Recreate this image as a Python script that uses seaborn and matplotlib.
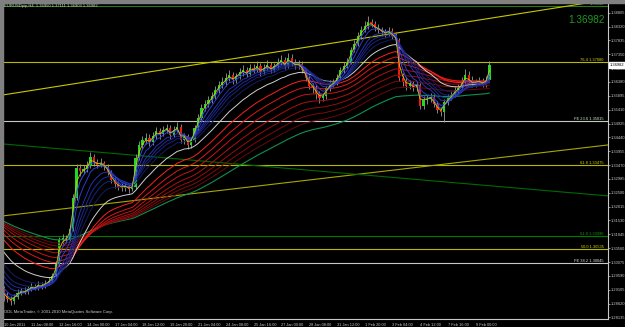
import numpy as np
import pandas as pd
import matplotlib
matplotlib.use("Agg")
import matplotlib.pyplot as plt
import seaborn as sns
from matplotlib.patches import Rectangle

sns.set_style("dark")
plt.rcParams['font.family'] = ['Liberation Sans', 'DejaVu Sans']

# ---------------- data ----------------
symbol_title = "EURUSDpip,H4  1.36950 1.37111 1.36903 1.36982"
last_price = 1.36982

# H4 closes before the visible window (indicator warm-up)
warmup_close = [
    1.3160, 1.3150, 1.3120, 1.3110, 1.3120, 1.3130,
    1.3100, 1.3090, 1.3080, 1.3090, 1.3110, 1.3100,
    1.3100, 1.3080, 1.3070, 1.3080, 1.3090, 1.3085,
    1.3090, 1.3100, 1.3110, 1.3120, 1.3110, 1.3100,
    1.3110, 1.3115, 1.3120, 1.3110, 1.3105, 1.3110,
    1.3170, 1.3160, 1.3145, 1.3140, 1.3150, 1.3140,
    1.3135, 1.3120, 1.3110, 1.3100, 1.3090, 1.3095,
    1.3110, 1.3140, 1.3180, 1.3220, 1.3210, 1.3200,
    1.3195, 1.3210, 1.3240, 1.3260, 1.3290, 1.3300,
    1.3310, 1.3340, 1.3360, 1.3380, 1.3370, 1.3380,
    1.3360, 1.3340, 1.3330, 1.3350, 1.3360, 1.3355,
    1.3340, 1.3310, 1.3300, 1.3290, 1.3280, 1.3300,
    1.3260, 1.3220, 1.3180, 1.3150, 1.3140, 1.3150,
    1.3120, 1.3090, 1.3060, 1.3020, 1.3000, 1.3005,
    1.2980, 1.2960, 1.2930, 1.2900, 1.2910, 1.2915,
]

open_ = [
    1.2915, 1.2889, 1.2878, 1.2871, 1.2886, 1.2900, 1.2907, 1.2903,
    1.2914, 1.2921, 1.2917, 1.2928, 1.2924, 1.2935, 1.2941, 1.2959,
    1.3001, 1.3085, 1.3092, 1.3089, 1.3124, 1.3232, 1.3337, 1.3327,
    1.3334, 1.3344, 1.3376, 1.3358, 1.3348, 1.3355, 1.3341, 1.3323,
    1.3295, 1.3281, 1.3271, 1.3267, 1.3274, 1.3264, 1.3271, 1.3372,
    1.3418, 1.3435, 1.3442, 1.3428, 1.3449, 1.3467, 1.3456, 1.3470,
    1.3477, 1.3453, 1.3470, 1.3481, 1.3435, 1.3449, 1.3418, 1.3435,
    1.3477, 1.3512, 1.3547, 1.3561, 1.3575, 1.3589, 1.3610, 1.3628,
    1.3638, 1.3652, 1.3663, 1.3645, 1.3659, 1.3673, 1.3680, 1.3666,
    1.3687, 1.3680, 1.3694, 1.3673, 1.3687, 1.3698, 1.3680, 1.3694,
    1.3708, 1.3715, 1.3694, 1.3722, 1.3705, 1.3694, 1.3701, 1.3680,
    1.3652, 1.3624, 1.3617, 1.3596, 1.3582, 1.3589, 1.3617, 1.3631,
    1.3638, 1.3652, 1.3680, 1.3694, 1.3708, 1.3750, 1.3771, 1.3799,
    1.3820, 1.3834, 1.3848, 1.3841, 1.3827, 1.3820, 1.3813, 1.3806,
    1.3817, 1.3799, 1.3785, 1.3652, 1.3638, 1.3624, 1.3631, 1.3617,
    1.3628, 1.3554, 1.3575, 1.3579, 1.3586, 1.3561, 1.3540, 1.3533,
    1.3568, 1.3582, 1.3593, 1.3610, 1.3617, 1.3638, 1.3663, 1.3645,
    1.3631, 1.3638, 1.3642, 1.3631, 1.3645,
]
high = [
    1.2925, 1.2901, 1.2890, 1.2895, 1.2912, 1.2918, 1.2920, 1.2925,
    1.2933, 1.2930, 1.2940, 1.2938, 1.2946, 1.2955, 1.2970, 1.3012,
    1.3094, 1.3104, 1.3101, 1.3133, 1.3245, 1.3350, 1.3352, 1.3348,
    1.3360, 1.3392, 1.3385, 1.3368, 1.3372, 1.3362, 1.3350, 1.3330,
    1.3305, 1.3292, 1.3285, 1.3288, 1.3282, 1.3286, 1.3385, 1.3432,
    1.3450, 1.3460, 1.3455, 1.3462, 1.3482, 1.3478, 1.3485, 1.3492,
    1.3488, 1.3483, 1.3498, 1.3490, 1.3460, 1.3455, 1.3445, 1.3488,
    1.3525, 1.3560, 1.3575, 1.3590, 1.3603, 1.3625, 1.3642, 1.3655,
    1.3668, 1.3680, 1.3672, 1.3670, 1.3688, 1.3698, 1.3692, 1.3700,
    1.3702, 1.3710, 1.3705, 1.3700, 1.3715, 1.3708, 1.3706, 1.3722,
    1.3732, 1.3725, 1.3740, 1.3735, 1.3718, 1.3715, 1.3710, 1.3688,
    1.3660, 1.3635, 1.3628, 1.3605, 1.3600, 1.3625, 1.3645, 1.3650,
    1.3665, 1.3692, 1.3708, 1.3722, 1.3762, 1.3785, 1.3812, 1.3835,
    1.3850, 1.3868, 1.3860, 1.3852, 1.3840, 1.3832, 1.3825, 1.3830,
    1.3826, 1.3810, 1.3792, 1.3670, 1.3655, 1.3645, 1.3642, 1.3640,
    1.3635, 1.3588, 1.3592, 1.3600, 1.3595, 1.3570, 1.3552, 1.3578,
    1.3595, 1.3608, 1.3625, 1.3632, 1.3655, 1.3685, 1.3675, 1.3660,
    1.3650, 1.3655, 1.3652, 1.3658, 1.3711,
]
low = [
    1.2872, 1.2866, 1.2858, 1.2862, 1.2879, 1.2893, 1.2894, 1.2897,
    1.2906, 1.2908, 1.2910, 1.2914, 1.2918, 1.2926, 1.2933, 1.2950,
    1.2995, 1.3070, 1.3075, 1.3080, 1.3115, 1.3225, 1.3310, 1.3315,
    1.3322, 1.3338, 1.3345, 1.3335, 1.3340, 1.3330, 1.3312, 1.3285,
    1.3266, 1.3258, 1.3255, 1.3256, 1.3250, 1.3255, 1.3262, 1.3365,
    1.3405, 1.3420, 1.3415, 1.3418, 1.3440, 1.3440, 1.3448, 1.3460,
    1.3440, 1.3445, 1.3462, 1.3425, 1.3420, 1.3405, 1.3408, 1.3428,
    1.3470, 1.3505, 1.3538, 1.3550, 1.3565, 1.3580, 1.3600, 1.3618,
    1.3625, 1.3640, 1.3632, 1.3635, 1.3650, 1.3660, 1.3655, 1.3658,
    1.3668, 1.3672, 1.3660, 1.3665, 1.3680, 1.3668, 1.3672, 1.3685,
    1.3698, 1.3685, 1.3688, 1.3695, 1.3682, 1.3685, 1.3670, 1.3640,
    1.3612, 1.3600, 1.3580, 1.3565, 1.3570, 1.3580, 1.3608, 1.3620,
    1.3628, 1.3645, 1.3670, 1.3688, 1.3700, 1.3742, 1.3765, 1.3790,
    1.3812, 1.3825, 1.3830, 1.3815, 1.3808, 1.3800, 1.3795, 1.3798,
    1.3788, 1.3772, 1.3640, 1.3625, 1.3610, 1.3612, 1.3605, 1.3608,
    1.3545, 1.3545, 1.3560, 1.3568, 1.3550, 1.3528, 1.3520, 1.3498,
    1.3558, 1.3575, 1.3585, 1.3600, 1.3608, 1.3630, 1.3635, 1.3620,
    1.3622, 1.3628, 1.3620, 1.3622, 1.3640,
]
close = [
    1.2889, 1.2878, 1.2871, 1.2886, 1.2900, 1.2907, 1.2903, 1.2914,
    1.2921, 1.2917, 1.2928, 1.2924, 1.2935, 1.2941, 1.2959, 1.3001,
    1.3085, 1.3092, 1.3089, 1.3124, 1.3232, 1.3337, 1.3327, 1.3334,
    1.3344, 1.3376, 1.3358, 1.3348, 1.3355, 1.3341, 1.3323, 1.3295,
    1.3281, 1.3271, 1.3267, 1.3274, 1.3264, 1.3271, 1.3372, 1.3418,
    1.3435, 1.3442, 1.3428, 1.3449, 1.3467, 1.3456, 1.3470, 1.3477,
    1.3453, 1.3470, 1.3481, 1.3435, 1.3449, 1.3418, 1.3435, 1.3477,
    1.3512, 1.3547, 1.3561, 1.3575, 1.3589, 1.3610, 1.3628, 1.3638,
    1.3652, 1.3663, 1.3645, 1.3659, 1.3673, 1.3680, 1.3666, 1.3687,
    1.3680, 1.3694, 1.3673, 1.3687, 1.3698, 1.3680, 1.3694, 1.3708,
    1.3715, 1.3694, 1.3722, 1.3705, 1.3694, 1.3701, 1.3680, 1.3652,
    1.3624, 1.3617, 1.3596, 1.3582, 1.3589, 1.3617, 1.3631, 1.3638,
    1.3652, 1.3680, 1.3694, 1.3708, 1.3750, 1.3771, 1.3799, 1.3820,
    1.3834, 1.3848, 1.3841, 1.3827, 1.3820, 1.3813, 1.3806, 1.3817,
    1.3799, 1.3785, 1.3652, 1.3638, 1.3624, 1.3631, 1.3617, 1.3628,
    1.3554, 1.3575, 1.3579, 1.3586, 1.3561, 1.3540, 1.3533, 1.3568,
    1.3582, 1.3593, 1.3610, 1.3617, 1.3638, 1.3663, 1.3645, 1.3631,
    1.3638, 1.3642, 1.3631, 1.3645, 1.3698,
]

date_labels = [
    "10 Jan 2011", "11 Jan 08:00", "12 Jan 16:00", "14 Jan 00:00",
    "17 Jan 04:00", "18 Jan 12:00", "19 Jan 20:00", "21 Jan 04:00",
    "24 Jan 08:00", "25 Jan 16:00", "27 Jan 00:00", "28 Jan 08:00",
    "31 Jan 12:00", "1 Feb 20:00", "3 Feb 04:00", "4 Feb 12:00",
    "7 Feb 16:00", "9 Feb 00:00",
]
price_ticks = [
    1.28135, 1.28620, 1.29105, 1.29590, 1.30075, 1.30560, 1.31045,
    1.31530, 1.32015, 1.32500, 1.32985, 1.33470, 1.33955, 1.34440,
    1.34925, 1.35410, 1.35895, 1.36380, 1.36865, 1.37350, 1.37835,
    1.38320, 1.38805,
]

# moving averages (EMA periods) and colours
blue_periods = [3, 5, 8, 10, 12, 15]
blue_colors = ["#3446f0", "#2c3cd0", "#2432b0", "#1e2a96", "#18227e", "#141c68"]
white_period = 21
red_periods = [30, 37, 44, 52, 60, 68, 77]
red_colors = ["#ff2020", "#e01818", "#c81414", "#b01010", "#980c0c", "#800a0a", "#6a0808"]
green_period = 90
yellow_period = 2

# fibonacci levels
fib_names = ["76.4", "FE 23.6", "61.8", "61.8", "50.0", "FE 38.2"]
fib_prices = [1.37080, 1.35015, 1.33475, 1.30990, 1.30535, 1.30045]
fib_colors = ["#b8b800", "#c8c8c8", "#b8b800", "#007a00", "#b8b800", "#c8c8c8"]
fib_text_colors = ["#d8d800", "#c8f0c8", "#d8d800", "#00a000", "#d8d800", "#e0e0e0"]
top_level_price = 1.39040

# trend lines: (start bar, start price, end bar, end price)
trend_start_bar = [-0.2, -0.2, -0.2]
trend_start_price = [1.35925, 1.31690, 1.34210]
trend_end_bar = [174.15, 174.15, 174.15]
trend_end_price = [1.39260, 1.34175, 1.32390]
trend_colors = ["#c8c800", "#a8a800", "#006a00"]

# ---------------- figure ----------------
W, H = 625, 327
fig = plt.figure(figsize=(W / 100, H / 100), dpi=100, facecolor="black")
ax = fig.add_axes([3 / W, 8 / H, 605 / W, 316 / H])
ax.set_facecolor("black")

n = len(close)
xs = np.arange(n)
ax.set_xlim(-0.2, 174.15)
ax.set_ylim(1.28080, 1.39145)

# levels and trend lines
ax.axhline(top_level_price, color="#2e7a10", lw=0.8, zorder=1)
for p, col in zip(fib_prices, fib_colors):
    ax.axhline(p, color=col, lw=0.8, zorder=1)
for xs0, ys0, xs1, ys1, col in zip(trend_start_bar, trend_start_price,
                                   trend_end_bar, trend_end_price, trend_colors):
    ax.plot([xs0, xs1], [ys0, ys1], color=col, lw=0.8, zorder=1)

# candles
o = np.array(open_); c = np.array(close); h = np.array(high); l = np.array(low)
ax.vlines(xs, l, h, color="#9a9a9a", lw=0.6, zorder=2)
up = c >= o
body = np.where(np.abs(c - o) < 0.00012, 0.00012, np.abs(c - o))
ax.bar(xs[up], body[up], bottom=np.minimum(o, c)[up], width=0.62,
       color="#22d822", edgecolor="none", zorder=3)
ax.bar(xs[~up], body[~up], bottom=np.minimum(o, c)[~up], width=0.62,
       color="#f01a10", edgecolor="none", zorder=3)

# EMAs
full = pd.Series(warmup_close + close)
k0 = len(warmup_close)
def ema(p):
    return full.ewm(span=p, adjust=False).mean().iloc[k0:].to_numpy()

sns.lineplot(x=xs, y=ema(green_period), color="#109050", lw=0.8, ax=ax, zorder=4)
for p, col in zip(red_periods[::-1], red_colors[::-1]):
    sns.lineplot(x=xs, y=ema(p), color=col, lw=0.7, ax=ax, zorder=4)
sns.lineplot(x=xs, y=ema(white_period), color="#d0d0d0", lw=0.7, ax=ax, zorder=5)
for p, col in zip(blue_periods[::-1], blue_colors[::-1]):
    sns.lineplot(x=xs, y=ema(p), color=col, lw=0.7, ax=ax, zorder=5)
sns.lineplot(x=xs, y=ema(yellow_period), color="#c8c800", lw=0.6, ax=ax, zorder=6)

# fib labels
for name, p, tc in zip(fib_names, fib_prices, fib_text_colors):
    ax.text(0.993, p, f"{name} {p:.5f}", transform=ax.get_yaxis_transform(),
            ha="right", va="bottom", fontsize=2.9, color=tc, zorder=7)
ax.text(0.993, top_level_price, f"{top_level_price:.5f}", transform=ax.get_yaxis_transform(),
        ha="right", va="bottom", fontsize=2.9, color="#40c040", zorder=7)

# big price text
ax.text(0.995, 0.946, f"{last_price:.5f}", transform=ax.transAxes, ha="right",
        va="center", fontsize=7.2, color="#1f9a1f", zorder=7)

# axes styling
for s in ["top", "left"]:
    ax.spines[s].set_visible(False)
for s in ["right", "bottom"]:
    ax.spines[s].set_color("#c8c8c8")
    ax.spines[s].set_linewidth(0.8)
ax.grid(False)
ax.yaxis.tick_right()
ax.set_yticks(price_ticks)
ax.set_yticklabels([f"{t:.5f}" for t in price_ticks])
ax.set_xticks(np.arange(0, 8 * len(date_labels), 8))
ax.set_xticklabels(date_labels, ha="left")
ax.tick_params(axis="y", colors="#c8c8c8", labelsize=2.9, length=1.5, width=0.5, pad=0.6,
               direction="out")
ax.tick_params(axis="x", colors="#c8c8c8", labelsize=2.8, length=2, width=0.5, pad=1,
               direction="out")
ax.set_xlabel(""); ax.set_ylabel("")

# current price box
ax.annotate(f"{last_price:.5f}", xy=(1.0, last_price), xycoords=ax.get_yaxis_transform(),
            xytext=(1.0, 0), textcoords="offset points", ha="left", va="center",
            fontsize=2.9, color="black",
            bbox=dict(boxstyle="square,pad=0.2", fc="white", ec="white"), zorder=8,
            annotation_clip=False)

# texts
fig.text(4 / W, 1 - 6 / H, symbol_title, fontsize=3.0, color="#d0d0d0", va="center")
ax.text(0.002, 0.016, "ODL MetaTrader, \u00a9 2001-2010 MetaQuotes Software Corp.",
        transform=ax.transAxes, fontsize=3.0, color="#d0d0d0", va="bottom")

# window frame
fig.patches.append(Rectangle((0, 1 - 2.5 / H), 1, 2.5 / H, transform=fig.transFigure,
                             color="#808080", zorder=0))
fig.patches.append(Rectangle((0, 0), 2.5 / W, 1, transform=fig.transFigure,
                             color="#808080", zorder=0))

fig.savefig("out.png", dpi=100, facecolor="black")
